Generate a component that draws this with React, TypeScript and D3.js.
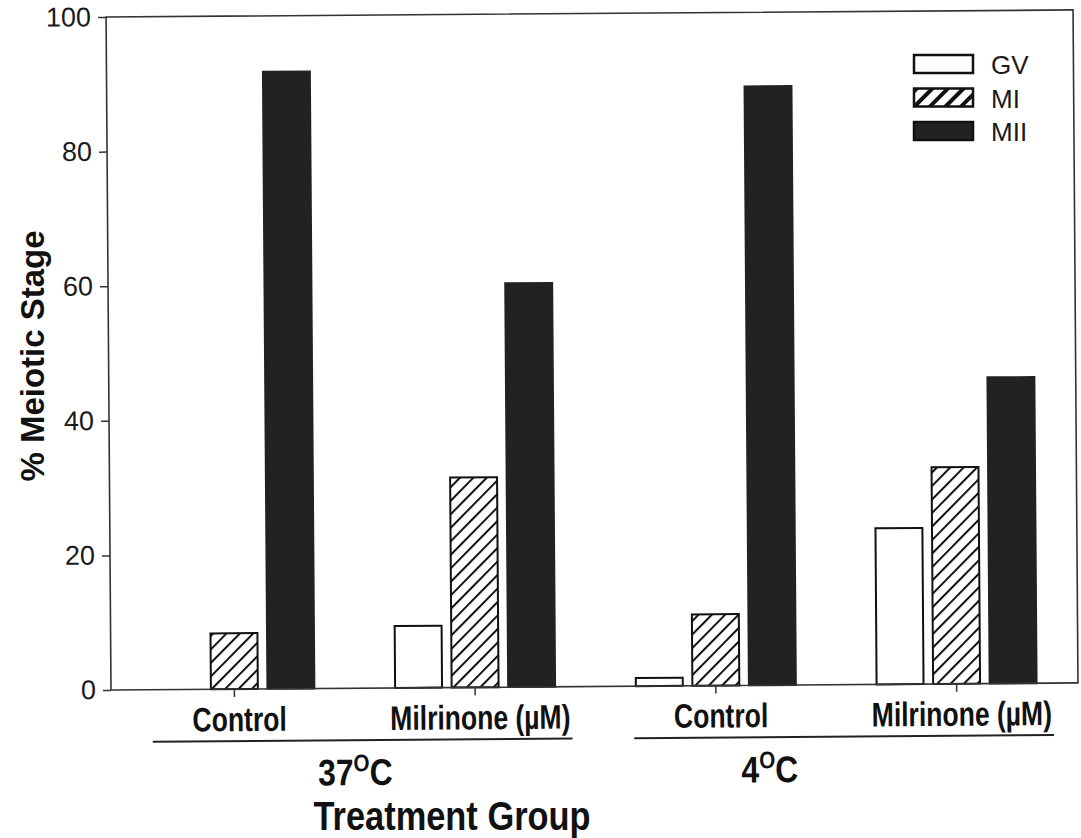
import React, { useEffect, useRef } from "react";
import * as d3 from "d3";

// % meiotic stage per treatment group (GV / MI / MII)
const groups = ["37-Control", "37-Milrinone", "4-Control", "4-Milrinone"];
const groupLabels = ["Control", "Milrinone (\u00B5M)", "Control", "Milrinone (\u00B5M)"];
const stages = ["GV", "MI", "MII"];
const gvValues = [0, 9.2, 1.2, 23.2];
const miValues = [8.3, 31.2, 10.6, 32.2];
const miiValues = [91.7, 60, 89, 45.5];
const yTicks = [0, 20, 40, 60, 80, 100];
const temperatures = ["37", "4"];

const W = 1081;
const H = 838;
const SANS = "'Liberation Sans', Arial, Helvetica, sans-serif";

const App = () => {
  const svgRef = useRef<SVGSVGElement | null>(null);

  useEffect(() => {
    const svg = d3.select(svgRef.current);
    svg.selectAll("*").remove();

    const left = 111;
    const right = 1078;
    const top = 17;
    const bottom = 690;

    const defs = svg.append("defs");
    const addHatch = (id: string, size: number, sw: number) => {
      const pat = defs
        .append("pattern")
        .attr("id", id)
        .attr("patternUnits", "userSpaceOnUse")
        .attr("width", size)
        .attr("height", size)
        .attr("patternTransform", "rotate(45)");
      pat.append("rect").attr("width", size).attr("height", size).attr("fill", "#fff");
      pat
        .append("line")
        .attr("x1", sw / 2)
        .attr("y1", 0)
        .attr("x2", sw / 2)
        .attr("y2", size)
        .attr("stroke", "#111")
        .attr("stroke-width", sw);
    };
    addHatch("hatch", 9.5, 2);
    addHatch("hatchLegend", 11, 4);

    // whole plot slightly tilted like the scanned figure
    const g = svg.append("g").attr("transform", `rotate(-0.42, ${left}, ${bottom})`);

    const x0 = d3.scaleBand().domain(groups).range([114, 1077]).padding(0);
    const x1 = d3.scaleBand().domain(stages).range([-80, 80]).paddingInner(0.17).paddingOuter(0);
    const y = d3.scaleLinear().domain([0, 100]).range([bottom, top]);

    const rows = groups.map((grp, i) => ({
      grp,
      vals: [
        { stage: "GV", v: gvValues[i] },
        { stage: "MI", v: miValues[i] },
        { stage: "MII", v: miiValues[i] },
      ],
    }));
    const fillFor = (s: string, legend = false) =>
      s === "GV" ? "#fff" : s === "MI" ? (legend ? "url(#hatchLegend)" : "url(#hatch)") : "#222";

    // bars
    rows.forEach((r) => {
      const cx = (x0(r.grp) as number) + x0.bandwidth() / 2;
      r.vals
        .filter((d) => d.v > 0)
        .forEach((d) => {
          g.append("rect")
            .attr("x", cx + (x1(d.stage) as number))
            .attr("y", y(d.v))
            .attr("width", x1.bandwidth())
            .attr("height", bottom - y(d.v))
            .attr("fill", fillFor(d.stage))
            .attr("stroke", d.stage === "MII" ? "#222" : "#111")
            .attr("stroke-width", 2);
        });
    });

    // frame
    g.append("rect")
      .attr("x", left)
      .attr("y", top)
      .attr("width", right - left)
      .attr("height", bottom - top)
      .attr("fill", "none")
      .attr("stroke", "#333")
      .attr("stroke-width", 1.6);

    // y axis
    const yAxis = g
      .append("g")
      .attr("transform", `translate(${left},0)`)
      .call(d3.axisLeft(y).tickValues(yTicks).tickSize(8).tickPadding(7));
    yAxis.select(".domain").remove();
    yAxis.selectAll("line").attr("stroke", "#333").attr("stroke-width", 1.5);
    yAxis
      .selectAll("text")
      .attr("fill", "#1a1a1a")
      .style("font-family", SANS)
      .style("font-size", "27px");

    // x ticks under middle bar of each group
    const xAxis = g
      .append("g")
      .attr("transform", `translate(0,${bottom})`)
      .call(
        d3
          .axisBottom(x0)
          .tickSize(8)
          .tickFormat(() => "")
      );
    xAxis.select(".domain").remove();
    xAxis.selectAll("line").attr("stroke", "#333").attr("stroke-width", 1.5);

    // condensed bold text helper (scanned figure uses a narrow bold face)
    const narrow = (
      parent: d3.Selection<SVGGElement, unknown, null, undefined> | any,
      xPos: number,
      yPos: number,
      size: number,
      sx: number
    ) =>
      parent
        .append("text")
        .attr("transform", `translate(${xPos},${yPos}) scale(${sx},1)`)
        .attr("text-anchor", "middle")
        .style("font-family", SANS)
        .style("font-weight", "bold")
        .style("font-size", `${size}px`)
        .attr("fill", "#111");

    // group labels
    groups.forEach((grp, i) => {
      const cx = (x0(grp) as number) + x0.bandwidth() / 2;
      narrow(g, cx + 5, 732, 34, 0.78).text(groupLabels[i]);
    });

    // temperature brackets
    temperatures.forEach((t, k) => {
      const c1 = (x0(groups[k * 2]) as number) + x0.bandwidth() / 2;
      const c2 = (x0(groups[k * 2 + 1]) as number) + x0.bandwidth() / 2;
      g.append("line")
        .attr("x1", c1 - 82)
        .attr("x2", c2 + 97)
        .attr("y1", 742)
        .attr("y2", 742)
        .attr("stroke", "#222")
        .attr("stroke-width", 2);
      const tx = k === 0 ? (c1 + c2) / 2 : (c1 + c2) / 2 - 67;
      const txt = narrow(g, tx, 787, 37, 0.86);
      txt.append("tspan").text(t);
      txt.append("tspan").attr("dy", -14).style("font-size", "24px").text("O");
      txt.append("tspan").attr("dy", 14).text("C");
    });

    // axis titles
    svg
      .append("text")
      .attr("transform", `translate(44, 356) rotate(-90)`)
      .attr("text-anchor", "middle")
      .style("font-family", SANS)
      .style("font-weight", "bold")
      .style("font-size", "33px")
      .attr("fill", "#111")
      .text("% Meiotic Stage");

    narrow(svg, 452, 830, 40, 0.86).text("Treatment Group");

    // legend
    const legend = svg.append("g").attr("transform", "translate(914, 55)");
    stages.forEach((s, i) => {
      const row = legend.append("g").attr("transform", `translate(0, ${i * 33.5})`);
      row
        .append("rect")
        .attr("x", 0)
        .attr("y", 0)
        .attr("width", 59)
        .attr("height", 18)
        .attr("fill", fillFor(s, true))
        .attr("stroke", "#111")
        .attr("stroke-width", 2.5);
      row
        .append("text")
        .attr("x", 77)
        .attr("y", 19)
        .style("font-family", SANS)
        .style("font-size", "26px")
        .attr("fill", "#1a1a1a")
        .text(s);
    });
  }, []);

  return (
    <svg
      ref={svgRef}
      width={W}
      height={H}
      style={{ position: "absolute", left: 0, top: 0, background: "#fff" }}
    ></svg>
  );
};

export default App;
